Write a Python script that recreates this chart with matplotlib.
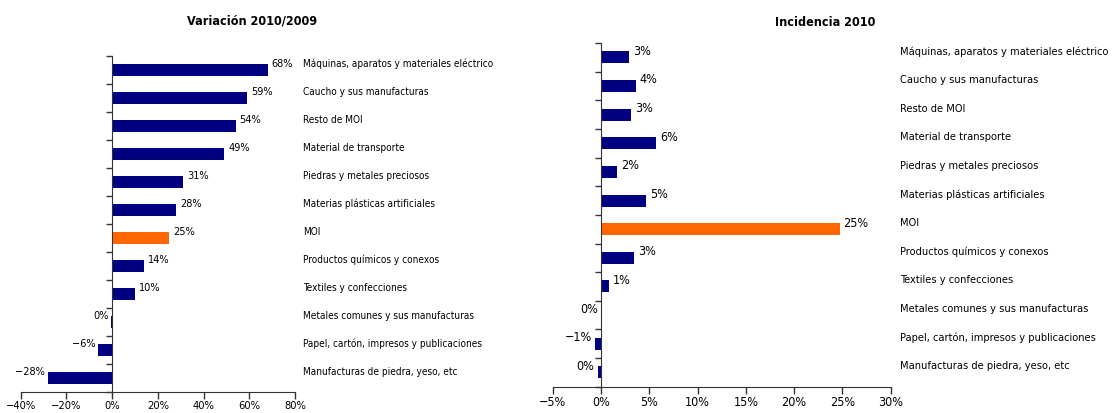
import matplotlib
matplotlib.use("Agg")
import matplotlib.pyplot as plt
import numpy as np
from matplotlib.ticker import FuncFormatter, FixedLocator

plt.rcParams['font.family'] = ['DejaVu Sans']
plt.rcParams['font.stretch'] = 'condensed'

categorias_var = ["Máquinas, aparatos y materiales eléctrico", "Caucho y sus manufacturas",
                  "Resto de MOI", "Material de transporte", "Piedras y metales preciosos",
                  "Materias plásticas artificiales", "MOI", "Productos químicos y conexos",
                  "Textiles y confecciones", "Metales comunes y sus manufacturas",
                  "Papel, cartón, impresos y publicaciones", "Manufacturas de piedra, yeso, etc"]
variacion = [68, 59, 54, 49, 31, 28, 25, 14, 10, -0.3, -6, -28]

categorias_inc = ["Máquinas, aparatos y materiales eléctrico", "Caucho y sus manufacturas",
                  "Resto de MOI", "Material de transporte", "Piedras y metales preciosos",
                  "Materias plásticas artificiales", "MOI", "Productos químicos y conexos",
                  "Textiles y confecciones", "Metales comunes y sus manufacturas",
                  "Papel, cartón, impresos y publicaciones", "Manufacturas de piedra, yeso, etc"]
incidencia = [2.9, 3.6, 3.1, 5.7, 1.7, 4.7, 24.7, 3.4, 0.8, -0.02, -0.65, -0.35]

resaltado = "MOI"
azul = "#000080"
naranja = "#FF6600"


def pct(v, pos=None):
    v = round(v)
    if v < 0:
        return "\u2212%d%%" % abs(v)
    return "%d%%" % v


def panel(ax, cats, vals, xlim, xstep, lab_dx, lab_dy, fs_tick, fs_val, fs_cat):
    y = np.arange(len(cats))
    colors = [naranja if c == resaltado else azul for c in cats]
    ax.barh(y, vals, height=0.42, color=colors)
    ax.set_xlim(*xlim)
    ax.set_ylim(len(cats) - 0.5, -0.5)
    ax.set_xticks(np.arange(xlim[0], xlim[1] + xstep / 2, xstep))
    ax.xaxis.set_major_formatter(FuncFormatter(pct))
    ax.tick_params(axis='x', direction='out', length=5, width=1, color='#333333',
                   labelsize=fs_tick, pad=1)
    ax.set_yticks([])
    ax.yaxis.set_minor_locator(FixedLocator(np.arange(-0.5, len(cats), 1)))
    ax.tick_params(axis='y', which='minor', direction='out', length=4, width=1,
                   color='#333333')
    for s in ['top', 'right']:
        ax.spines[s].set_visible(False)
    ax.spines['left'].set_position(('data', 0))
    ax.spines['left'].set_color('#333333')
    ax.spines['bottom'].set_color('#333333')
    for yi, v, c in zip(y, vals, cats):
        if v >= 0:
            ax.annotate(pct(v), xy=(v, yi), xytext=(4, lab_dy), textcoords='offset pixels',
                        ha='left', va='center', fontsize=fs_val)
        else:
            ax.annotate(pct(v), xy=(v, yi), xytext=(-3, lab_dy), textcoords='offset pixels',
                        ha='right', va='center', fontsize=fs_val)
        ax.annotate(c, xy=(1, yi), xycoords=('axes fraction', 'data'),
                    xytext=(lab_dx, lab_dy), textcoords='offset pixels',
                    ha='left', va='center', fontsize=fs_cat, annotation_clip=False)


fig = plt.figure(figsize=(11.13, 4.14), dpi=100)

ax1 = fig.add_axes([0.0186, 0.0514, 0.2464, 0.8116])
panel(ax1, categorias_var, variacion, (-40, 80), 20, 8, 7, 8, 7.8, 7.2)

ax2 = fig.add_axes([0.4966, 0.0635, 0.3037, 0.8302])
panel(ax2, categorias_inc, incidencia, (-5, 30), 5, 9, 7, 9, 9, 7.9)

fig.text(252 / 1113, 1 - 21 / 414, "Variación 2010/2009", ha='center', va='center',
         fontsize=9, fontweight='bold')
fig.text(825 / 1113, 1 - 22 / 414, "Incidencia 2010", ha='center', va='center',
         fontsize=9, fontweight='bold')

fig.savefig("out.png", dpi=100)
